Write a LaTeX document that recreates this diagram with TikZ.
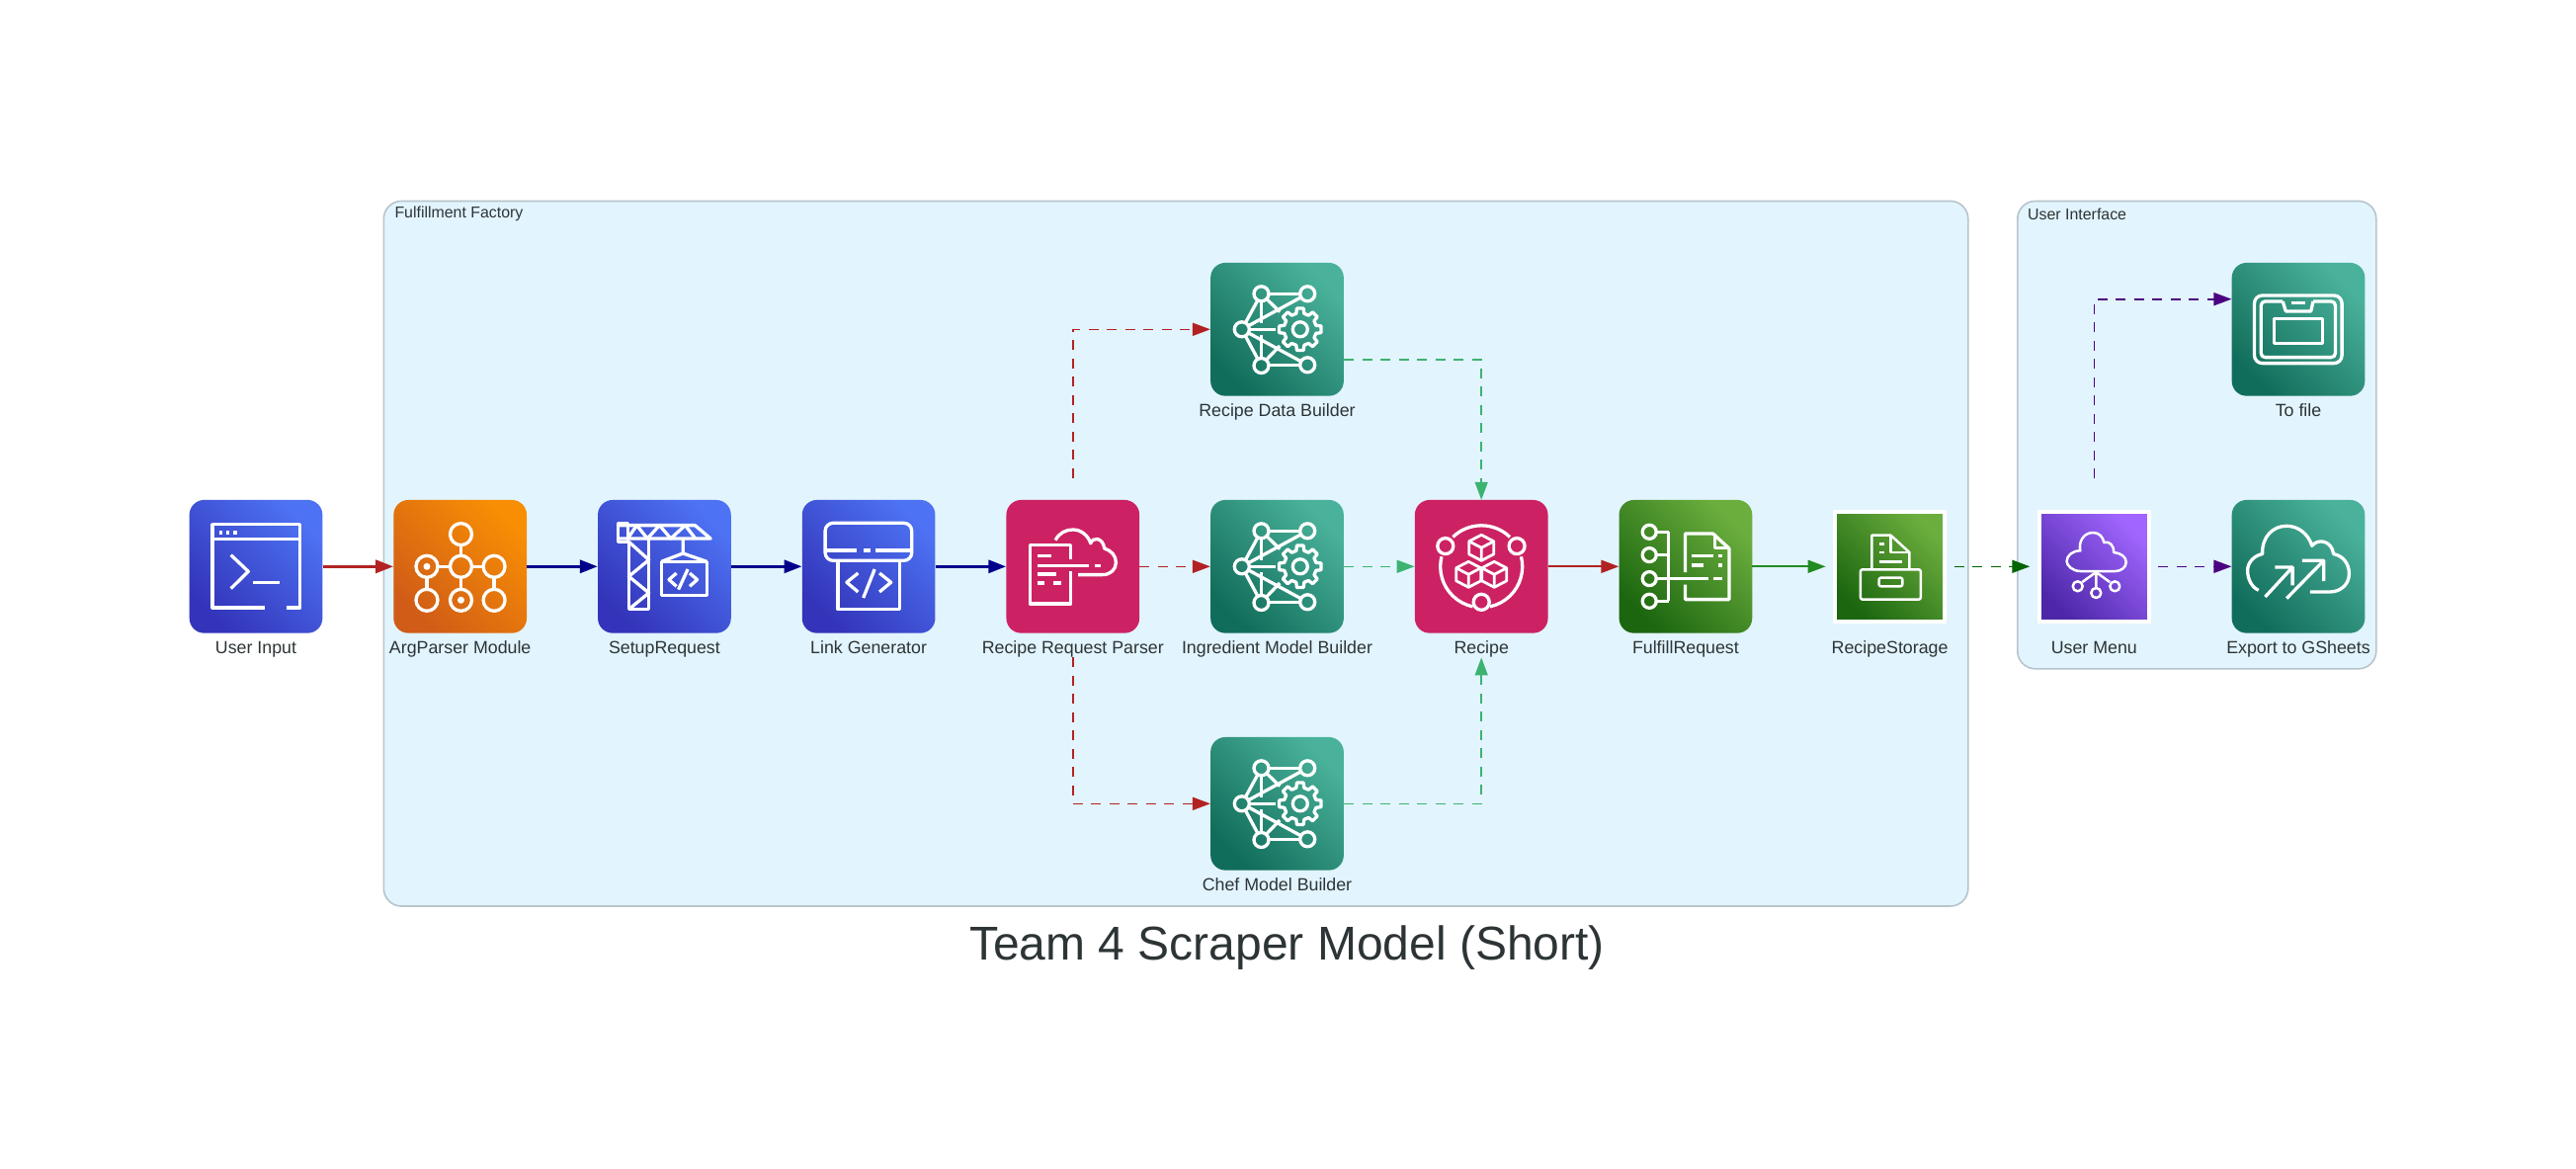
\documentclass[tikz,border=0pt]{standalone}
\usepackage{fontspec}
\setmainfont{Liberation Sans}
\usepackage{xcolor}
\usetikzlibrary{arrows.meta, shadows, calc}
\definecolor{clusterfill}{HTML}{E2F4FD}
\definecolor{clusterline}{HTML}{B7C4CC}
\definecolor{inktext}{HTML}{2D3436}
\definecolor{firebrick}{HTML}{B22222}
\definecolor{navyblue}{HTML}{00008B}
\definecolor{seagreen}{HTML}{3CB371}
\definecolor{forestgreen}{HTML}{228B22}
\definecolor{deepgreen}{HTML}{006400}
\definecolor{deepindigo}{HTML}{4B0082}
\definecolor{bluelo}{HTML}{3334B9}
\definecolor{bluehi}{HTML}{4D72F3}
\definecolor{orangelo}{HTML}{D05C17}
\definecolor{orangehi}{HTML}{F78E04}
\definecolor{teallo}{HTML}{116D5B}
\definecolor{tealhi}{HTML}{4AB29A}
\definecolor{greenlo}{HTML}{1B660F}
\definecolor{greenhi}{HTML}{6CAE3E}
\definecolor{purplelo}{HTML}{4D27A8}
\definecolor{purplehi}{HTML}{A166FF}
\definecolor{pinkflat}{HTML}{CC2264}

\tikzset{
	iconbox/.style 2 args={inner sep=0pt, minimum size=134.7pt, rounded corners=15pt, shading=axis, left color=#1, right color=#2, shading angle=135},
	flatbox/.style={inner sep=0pt, minimum size=134.7pt, rounded corners=15pt, fill=pinkflat},
	framebox/.style 2 args={inner sep=0pt, minimum size=110.8pt, outer sep=9.6pt, shading=axis, left color=#1, right color=#2, shading angle=135},
	whiteframe/.style={draw=white, line width=3.8pt, drop shadow={shadow xshift=0.5pt, shadow yshift=-1.5pt, opacity=0.35}},
	caption/.style={inner sep=0pt, text height=12.7pt, text depth=3.6pt, label distance=7.9pt, text=inktext, font=\fontsize{17.8}{20}\selectfont},
	framecaption/.style={caption, label distance=10.6pt},
	cluster/.style={draw=clusterline, fill=clusterfill, line width=1.6pt, rounded corners=18pt, inner sep=0pt, anchor=north west},
	clustertitle/.style={inner sep=0pt, anchor=west, text=inktext, font=\fontsize{15.9}{18}\selectfont},
	heavy/.style={-{Triangle[length=18pt,width=13pt]}, line width=3.2pt},
	light/.style={-{Triangle[length=18pt,width=13pt]}, line width=1.9pt},
	dashy/.style={light, line width=1.6pt, dash pattern=on 10pt off 8.5pt},
	icon/.style={draw=white, line width=3.3pt, line join=round},
	thinicon/.style={draw=white, line width=2.5pt, line join=round},
	every pic/.style={x=1pt, y=-1pt},
	terminalicon/.pic={
		\draw[icon] (9.2,41.7) -- (-44,41.7) -- (-44,-42.7) -- (44.8,-42.7) -- (44.8,41.7) -- (31,41.7);
		\draw[icon] (-44,-27.7) -- (44.8,-27.7);
		\foreach \d in {-35.6,-28.5,-21.3} \fill[white] (\d-1.8,-36) rectangle (\d+1.8,-32);
		\draw[icon] (-25.3,-11.7) -- (-7.7,5) -- (-25.3,22.3);
		\draw[icon] (-3,16) -- (23.7,16);
	},
	treeicon/.pic={
		\draw[icon] (0.8,-21) -- (0.8,-11) (-22.7,0) -- (-10.2,0) (11.8,0) -- (23.4,0);
		\draw[icon] (-33.7,11) -- (-33.7,23) (0.8,11) -- (0.8,23) (34.4,11) -- (34.4,23);
		\foreach \p in {(0.8,-32.7),(-33.7,0),(0.8,0),(34.4,0),(-33.7,34),(0.8,34),(34.4,34)} \draw[icon] \p circle[radius=11pt];
		\fill[white] (-33.7,0) circle[radius=3.5pt] (0.8,34) circle[radius=3.5pt];
	},
	craneicon/.pic={
		\draw[icon] (-46.9,-41.7) -- (31,-41.7) -- (46.7,-28.3) -- (-46.9,-28.3);
		\draw[icon] (-46.9,-44) rectangle (-37.1,-25);
		\draw[icon] (-37.1,-28.3) -- (-28,-41.7) -- (-17.2,-28.3) -- (-5,-41.7) -- (6.5,-28.3) -- (21,-41.7) -- (31.4,-28.3);
		\draw[icon] (-36,-25) -- (-36,43.3) -- (-15.7,43.3) -- (-15.7,-28.3);
		\draw[icon] (-36,-25) -- (-15.7,-6.7) -- (-36,10) -- (-15.7,26.7) -- (-36,43.3);
		\draw[icon] (18.8,-28.3) -- (18.8,-13.3) -- (-3,-5) (18.8,-13.3) -- (42.9,-5);
		\draw[icon] (-3,-5) rectangle (42.9,29.3);
		\draw[icon] (12.2,6.7) -- (4.6,13.3) -- (12.2,20) (23.7,2.7) -- (14.2,23.3) (25.6,6.7) -- (33.2,13.3) -- (25.6,20);
	},
	linkicon/.pic={
		\draw[icon, rounded corners=8pt] (-44,-44) rectangle (43.6,-6);
		\draw[icon] (-42,-16.3) -- (-11.9,-16.3) (-5.4,-16.3) -- (1.5,-16.3) (7.3,-16.3) -- (42.5,-16.3);
		\draw[icon] (-31,-6) -- (-31,43.3) -- (31.4,43.3) -- (31.4,-6);
		\draw[icon] (-10.7,6.7) -- (-22.2,16) -- (-10.7,25.7) (6.1,2.7) -- (-5.4,31.7) (11,6.7) -- (22.6,16) -- (11,25.7);
	},
	parsericon/.pic={
		\draw[icon] (-2.3,-7) -- (-2.3,-21.7) -- (-43.4,-21.7) -- (-43.4,37.7) -- (-2.3,37.7) -- (-2.3,5);
		\draw[icon] (-35.4,-11) -- (-22,-11) (-35.4,-1) -- (16,-1) (22.5,-1) -- (28.3,-1) (-35.4,7.7) -- (-16.5,7.7) (-35.4,16.7) -- (-29,16.7) (-19.5,16.7) -- (-12,16.7);
		\draw[icon] (-17.6,-26.7) .. controls (-14,-34) and (-7,-37.3) .. (0,-37.3) .. controls (8,-37.3) and (15,-32) .. (18,-23.5) .. controls (20,-30) and (30,-30) .. (32,-18.3) .. controls (39,-16) and (43.6,-11) .. (43.6,-4) .. controls (43.6,3) and (38,8.3) .. (30,8.3) -- (5.4,8.3);
	},
	neticon/.pic={
		\foreach \a/\b in {{(-35.7,0)}/{(-16,-36)},{(-35.7,0)}/{(-16,36.7)},{(-35.7,0)}/{(30.7,-36)},{(-35.7,0)}/{(30.7,36)},{(-16,-36)}/{(30.7,-36)},{(-16,36)}/{(30.7,36)}}
			\draw[icon, shorten <=7.5pt, shorten >=7.5pt] \a -- \b;
		\foreach \a/\b in {{(-35.7,0)}/{(-1.7,0)},{(-16,-36)}/{(-16,-6)},{(-16,36)}/{(-16,6)},{(-16,-36)}/{(2.7,-17.7)},{(-16,36)}/{(2.7,16.7)}}
			\draw[icon, shorten <=7.5pt] \a -- \b;
		\foreach \p in {(-35.7,0),(-16,-36),(30.7,-36),(-16,36.7),(30.7,36)} \draw[icon] \p circle[radius=7.5pt];
		\begin{scope}[shift={(23.3,0)}]
			\draw[icon] (-14:16.5pt) \foreach \a in {0,45,...,315} { -- (\a-14:16.5pt) -- (\a-9:21.5pt) -- (\a+9:21.5pt) -- (\a+14:16.5pt)} -- cycle;
			\draw[icon] (0,0) circle[radius=7.5pt];
		\end{scope}
	},
	cubesicon/.pic={
		\draw[icon] (134:41.5pt) arc[start angle=134, end angle=46, radius=41.5pt];
		\draw[icon] (166:41.5pt) arc[start angle=166, end angle=258, radius=41.5pt];
		\draw[icon] (14:41.5pt) arc[start angle=14, end angle=-78, radius=41.5pt];
		\foreach \p in {(-36.4,-20.7),(35.9,-20.7),(0,36)} \draw[icon] \p circle[radius=8pt];
		\foreach \c in {(0,-19),(-13,8),(13,8)} {
			\begin{scope}[shift={\c}]
				\draw[icon, line width=2.8pt] (0,-13) -- (12.5,-6.5) -- (12.5,6.5) -- (0,13) -- (-12.5,6.5) -- (-12.5,-6.5) -- cycle;
				\draw[icon, line width=2.8pt] (-12.5,-6.5) -- (0,0) -- (12.5,-6.5) (0,0) -- (0,13);
			\end{scope}
		}
	},
	fulfillicon/.pic={
		\draw[icon] (-17.2,-35) -- (-17.2,35) (-29.7,-35) -- (-17.2,-35) (-29.7,-11.7) -- (-17.2,-11.7) (-29.7,35) -- (-17.2,35) (-29.7,12.3) -- (23,12.3) (27.6,12.3) -- (37,12.3);
		\foreach \y in {-35,-11.7,12.3,35} \draw[icon] (-36.7,\y) circle[radius=7pt];
		\draw[icon] (-0.4,5.7) -- (-0.4,-33.3) -- (27.6,-33.3) -- (44,-18.3) -- (44,33.3) -- (-0.4,33.3) -- (-0.4,18.3);
		\draw[icon] (29.5,-33.3) -- (29.5,-19) -- (44,-19);
		\draw[icon] (5.7,-10.7) -- (27.6,-10.7) (32.7,-10.7) -- (37,-10.7) (5.7,-1.3) -- (18,-1.3) (32.7,-1.3) -- (37,-1.3);
	},
	storageicon/.pic={
		\draw[thinicon] (-18.2,2.3) -- (-18.2,-31.7) -- (0.8,-31.7) -- (19.8,-14.3) -- (19.8,2.3);
		\draw[thinicon] (0.8,-31.7) -- (0.8,-14.3) -- (19.8,-14.3);
		\draw[thinicon] (-11,-22.7) -- (-6,-22.7) (-11,-14.3) -- (-6,-14.3) (-11,-5) -- (12.7,-5);
		\draw[thinicon, rounded corners=2pt] (-29.7,3) rectangle (31.2,33.3);
		\draw[thinicon, rounded corners=2pt] (-11,11.3) rectangle (12.7,20);
	},
	menuicon/.pic={
		\draw[thinicon] (-13.8,4.7) .. controls (-22,4.7) and (-27.7,-1) .. (-27.7,-5.3) .. controls (-27.7,-11) and (-22,-16) .. (-14,-16) .. controls (-16,-26) and (-10,-34.3) .. (-1,-34.3) .. controls (5,-34.3) and (9,-30) .. (10,-24.3) .. controls (16,-26) and (20,-21) .. (20,-14.3) .. controls (27,-13.5) and (32.4,-10) .. (32.4,-4.3) .. controls (32.4,1) and (27,4.7) .. (21.7,4.7) -- cycle;
		\draw[thinicon] (2,5.7) -- (-12,15.7) (2,5.7) -- (2,20.7) (2,5.7) -- (15.8,15.7);
		\foreach \p in {(-16.6,20),(2,26.7),(21,20)} \draw[thinicon] \p circle[radius=5pt];
	},
	sheetsicon/.pic={
		\draw[icon] (-40.3,24) .. controls (-47,21) and (-51.4,13) .. (-51.4,4) .. controls (-51.4,-4) and (-45,-11) .. (-36.4,-12.7) .. controls (-37,-30) and (-26,-41) .. (-11.9,-41) .. controls (0,-41) and (10,-33) .. (13.8,-21) .. controls (20,-29) and (34,-26) .. (35.6,-12.7) .. controls (45,-11) and (51.4,-3) .. (51.4,7.3) .. controls (51.4,18) and (43,25.7) .. (31.6,25.7) -- (11.9,25.7);
		\draw[icon] (-33.6,30.7) -- (-5.9,0.7) (-23.7,0.7) -- (-5.9,0.7) -- (-5.9,19);
		\draw[icon] (-11.9,32.3) -- (25.7,-6) (3.9,-6) -- (25.7,-6) -- (25.7,14.7);
	},
	tofileicon/.pic={
		\draw[icon, rounded corners=8pt] (-44.5,-34.3) rectangle (44.1,34.3);
		\draw[icon, rounded corners=4pt] (-15.8,-28.3) -- (-37.7,-28.3) -- (-37.7,28.3) -- (37.4,28.3) -- (37.4,-28.3) -- (15,-28.3);
		\draw[icon] (-15.8,-28.3) -- (-12.7,-18.3) -- (12.7,-18.3) -- (15,-28.3);
		\draw[icon] (-7.1,-26.7) -- (7.1,-26.7);
		\draw[icon] (-24.5,-11) rectangle (24.5,14);
	}
}

\begin{document}
\begin{tikzpicture}[x=1pt, y=-1pt, node distance=206.7pt]
	\useasboundingbox (0,0) rectangle (2607,1183);

	% clusters first, they lie under everything
	\node[cluster, minimum width=1603.5pt, minimum height=713.5pt] (factory) at (387.5,202.7) {};
	\node[clustertitle] (factorytitle) at ([xshift=11.8pt,yshift=-13.8pt]factory.north west) {Fulfillment Factory};
	\node[cluster, minimum width=363pt, minimum height=473.3pt] (interface) at (2041,202.7) {};
	\node[clustertitle] (interfacetitle) at ([xshift=11pt,yshift=-13.8pt]interface.north west) {User Interface};

	\node[iconbox={bluelo}{bluehi}, label={[caption, name=inputlbl]below:User Input}] (input) at (259,573.3) {};
	\node[iconbox={orangelo}{orangehi}, right of= input, label={[caption, name=argparserlbl]below:ArgParser Module}] (argparser) {};
	\node[iconbox={bluelo}{bluehi}, right of= argparser, label={[caption, name=setuplbl]below:SetupRequest}] (setup) {};
	\node[iconbox={bluelo}{bluehi}, right of= setup, label={[caption, name=linklbl]below:Link Generator}] (link) {};
	\node[flatbox, right of= link, label={[caption, name=parserlbl]below:Recipe Request Parser}] (parser) {};
	\node[iconbox={teallo}{tealhi}, right of= parser, label={[caption, name=ingredientlbl]below:Ingredient Model Builder}] (ingredient) {};
	\node[flatbox, right of= ingredient, label={[caption, name=recipelbl]below:Recipe}] (recipe) {};
	\node[iconbox={greenlo}{greenhi}, right of= recipe, label={[caption, name=fulfilllbl]below:FulfillRequest}] (fulfill) {};
	\node[framebox={greenlo}{greenhi}, whiteframe, right of= fulfill, label={[framecaption, name=storagelbl]below:RecipeStorage}] (storage) {};
	\node[framebox={purplelo}{purplehi}, whiteframe, right of= storage, label={[framecaption, name=menulbl]below:User Menu}] (menu) {};
	\node[iconbox={teallo}{tealhi}, right of= menu, label={[caption, name=exportlbl]below:Export to GSheets}] (export) {};
	\node[iconbox={teallo}{tealhi}, above of= export, yshift=33.3pt, label={[caption, name=tofilelbl]below:To file}] (tofile) {};
	\node[iconbox={teallo}{tealhi}, above of= ingredient, yshift=33.3pt, label={[caption, name=databuilderlbl]below:Recipe Data Builder}] (databuilder) {};
	\node[iconbox={teallo}{tealhi}, below of= ingredient, yshift=-33.3pt, label={[caption, name=chefbuilderlbl]below:Chef Model Builder}] (chefbuilder) {};

	\node[text=inktext, inner sep=0pt, font=\fontsize{48}{54}\selectfont] (title) at (1302.6,959) {Team 4 Scraper Model (Short)};

	\pic at (input) {terminalicon};
	\pic at (argparser) {treeicon};
	\pic at (setup) {craneicon};
	\pic at (link) {linkicon};
	\pic at (parser) {parsericon};
	\pic at (ingredient) {neticon};
	\pic at (databuilder) {neticon};
	\pic at (chefbuilder) {neticon};
	\pic at (recipe) {cubesicon};
	\pic at (fulfill) {fulfillicon};
	\pic at (storage) {storageicon};
	\pic at (menu) {menuicon};
	\pic at (export) {sheetsicon};
	\pic at (tofile) {tofileicon};

	\coordinate (databuilderout) at ($(databuilder.east)+(0,30.4)$);
	\coordinate (tofilein) at ($(tofile.west)+(0,-30.6)$);

	\draw[heavy, firebrick] (input) -- (argparser);
	\draw[heavy, navyblue] (argparser) -- (setup);
	\draw[heavy, navyblue] (setup) -- (link);
	\draw[heavy, navyblue] (link) -- (parser);

	\draw[dashy, firebrick] (parser) -- (ingredient);
	\draw[dashy, firebrick, shorten <=22pt] (parser.north) |- (databuilder.west);
	\draw[dashy, firebrick] (parserlbl.south) |- (chefbuilder.west);

	\draw[dashy, seagreen] (ingredient) -- (recipe);
	\draw[dashy, seagreen] (databuilderout) -| (recipe.north);
	\draw[dashy, seagreen] (chefbuilder) -| (recipelbl.south);

	\draw[light, firebrick] (recipe) -- (fulfill);
	\draw[light, forestgreen] (fulfill) -- (storage);
	\draw[dashy, deepgreen] (storage) -- (menu);

	\draw[dashy, deepindigo] (menu) -- (export);
	\draw[dashy, deepindigo, shorten <=24pt] (menu.north) |- (tofilein);
\end{tikzpicture}
\end{document}
